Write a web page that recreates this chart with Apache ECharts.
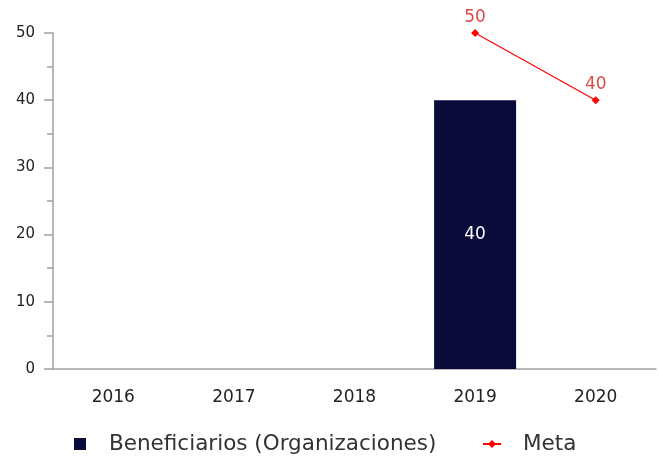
<!DOCTYPE html>
<html><head><meta charset="utf-8">
<script src="https://cdn.jsdelivr.net/npm/echarts@6/dist/echarts.min.js"></script>
<style>html,body{margin:0;padding:0;background:#fff}#c{width:659px;height:457px}</style>
</head><body><div id="c"></div>
<script>
var categories = ['2016','2017','2018','2019','2020'];
var beneficiarios = [null, null, null, 40, null];
var meta = [null, null, null, 50, 40];
var yTicks = [0, 10, 20, 30, 40, 50];

var chart = echarts.init(document.getElementById('c'), null, {renderer:'canvas'});
chart.setOption({
  animation: false,
  textStyle: {fontFamily: 'DejaVu Sans'},
  grid: {left: 53, right: 3, top: 33, bottom: 88, containLabel: false},
  legend: [
    {
      left: 69, top: 428, itemWidth: 24, itemHeight: 12,
      icon: 'path://M0,0H10V10H0Z', symbolKeepAspect: true,
      textStyle: {fontSize: 21.5, color: '#333', fontFamily: 'DejaVu Sans', padding: [0,0,0,12]},
      data: [{name: 'Beneficiarios (Organizaciones)', itemStyle: {color: '#0b0b3b'}}]
    },
    {
      left: 477, top: 428, itemWidth: 18, itemHeight: 10,
      textStyle: {fontSize: 21.5, color: '#333', fontFamily: 'DejaVu Sans', padding: [0,0,0,17]},
      data: [{name: 'Meta'}]
    }
  ],
  xAxis: {
    type: 'category', data: categories,
    axisLine: {lineStyle: {color: '#a0a0a0', width: 1.5}},
    axisTick: {show: false},
    axisLabel: {color: '#222', fontSize: 17, margin: 20}
  },
  yAxis: {
    type: 'value', min: yTicks[0], max: yTicks[yTicks.length-1], interval: 10,
    splitLine: {show: false},
    axisLine: {show: true, lineStyle: {color: '#a0a0a0', width: 1.5}},
    axisTick: {show: true, length: 9, lineStyle: {color: '#a0a0a0', width: 1.5}},
    minorTick: {show: true, splitNumber: 2, length: 6, lineStyle: {color: '#a0a0a0', width: 1.5}},
    axisLabel: {color: '#222', fontSize: 15, margin: 18}
  },
  series: [
    {
      name: 'Beneficiarios (Organizaciones)', type: 'bar', data: beneficiarios,
      barWidth: 82,
      itemStyle: {color: '#0b0b3b'},
      label: {show: true, position: 'inside', color: '#fff', fontSize: 17}
    },
    {
      name: 'Meta', type: 'line', data: meta,
      symbol: 'diamond', symbolSize: 8,
      itemStyle: {color: '#ff0000'},
      lineStyle: {color: '#ff0000', width: 1.2},
      label: {show: true, position: 'top', color: '#d94a4a', fontSize: 17, distance: 3}
    }
  ]
});
</script></body></html>
